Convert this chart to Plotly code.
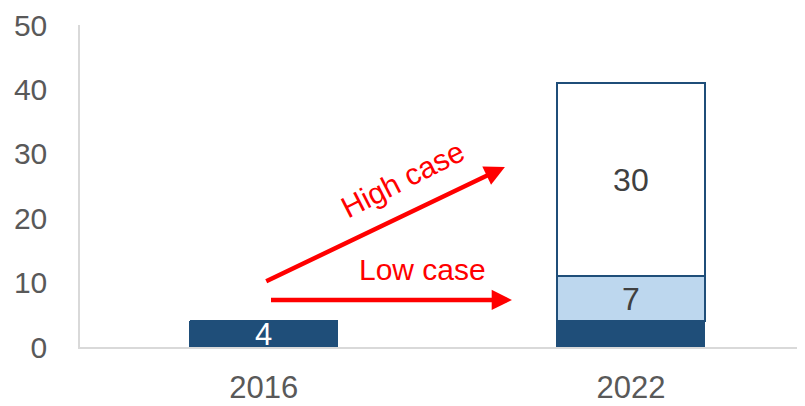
import plotly.graph_objects as go

categories = ["2016", "2022"]
base_values = [4, 4]
low_values = [0, 7]
high_values = [0, 30]
base_text = ["4", ""]
low_text = ["", "7"]
high_text = ["", "30"]
y_ticks = [0, 10, 20, 30, 40, 50]

DARK = "#1F4E79"
LIGHT = "#BDD7EE"
FONT = "Liberation Sans, Arial, sans-serif"

fig = go.Figure()
fig.add_trace(go.Bar(x=categories, y=base_values, text=base_text, marker=dict(color=DARK, line=dict(color=DARK, width=1)),
                     textposition="inside", insidetextanchor="middle", textangle=0,
                     textfont=dict(color="white", size=31, family=FONT),
                     width=0.403, hoverinfo="skip"))
fig.add_trace(go.Bar(x=categories, y=low_values, text=low_text, marker=dict(color=LIGHT, line=dict(color=DARK, width=1.5)),
                     textposition="inside", insidetextanchor="middle", textangle=0,
                     textfont=dict(color="#404040", size=32, family=FONT),
                     width=0.403, hoverinfo="skip"))
fig.add_trace(go.Bar(x=categories, y=high_values, text=high_text, marker=dict(color="white", line=dict(color=DARK, width=1.5)),
                     textposition="inside", insidetextanchor="middle", textangle=0,
                     textfont=dict(color="#404040", size=32, family=FONT),
                     width=0.403, hoverinfo="skip"))

arrow = dict(xref="x", yref="y", axref="x", ayref="y", showarrow=True, arrowcolor="#FF0000",
             arrowwidth=4.5, arrowhead=2, arrowsize=0.9, text="")
fig.add_annotation(x=0.676, y=7.3, ax=0.016, ay=7.3, **arrow)
fig.add_annotation(x=0.657, y=27.95, ax=0.003, ay=10.1, **arrow)
fig.add_annotation(x=0.433, y=12.0, text="Low case", showarrow=False, xref="x", yref="y",
                   font=dict(color="#FF0000", size=30, family=FONT))
fig.add_annotation(x=0.377, y=26.0, text="High case", showarrow=False, xref="x", yref="y", textangle=-27,
                   font=dict(color="#FF0000", size=30, family=FONT))

# page body has an 8px margin, so the figure is shifted to fit the 805x406 window
fig.update_layout(
    barmode="stack",
    width=805, height=398,
    margin=dict(l=72, r=8, t=17, b=59),
    plot_bgcolor="white", paper_bgcolor="white",
    showlegend=False,
    uniformtext=dict(minsize=30, mode="show"),
    xaxis=dict(type="category", range=[-0.5, 1.474], showline=True, linecolor="#D9D9D9", linewidth=1.5,
               showgrid=False, ticks="", tickfont=dict(size=31, color="#595959", family=FONT),
               ticklabelstandoff=12, automargin=False),
    yaxis=dict(range=[0, 50], tickvals=y_ticks, showline=True, linecolor="#D9D9D9", linewidth=1.5,
               showgrid=False, zeroline=False, ticks="", tickfont=dict(size=30, color="#595959", family=FONT),
               ticklabelstandoff=25, automargin=False),
)

fig.write_html("out.html")
